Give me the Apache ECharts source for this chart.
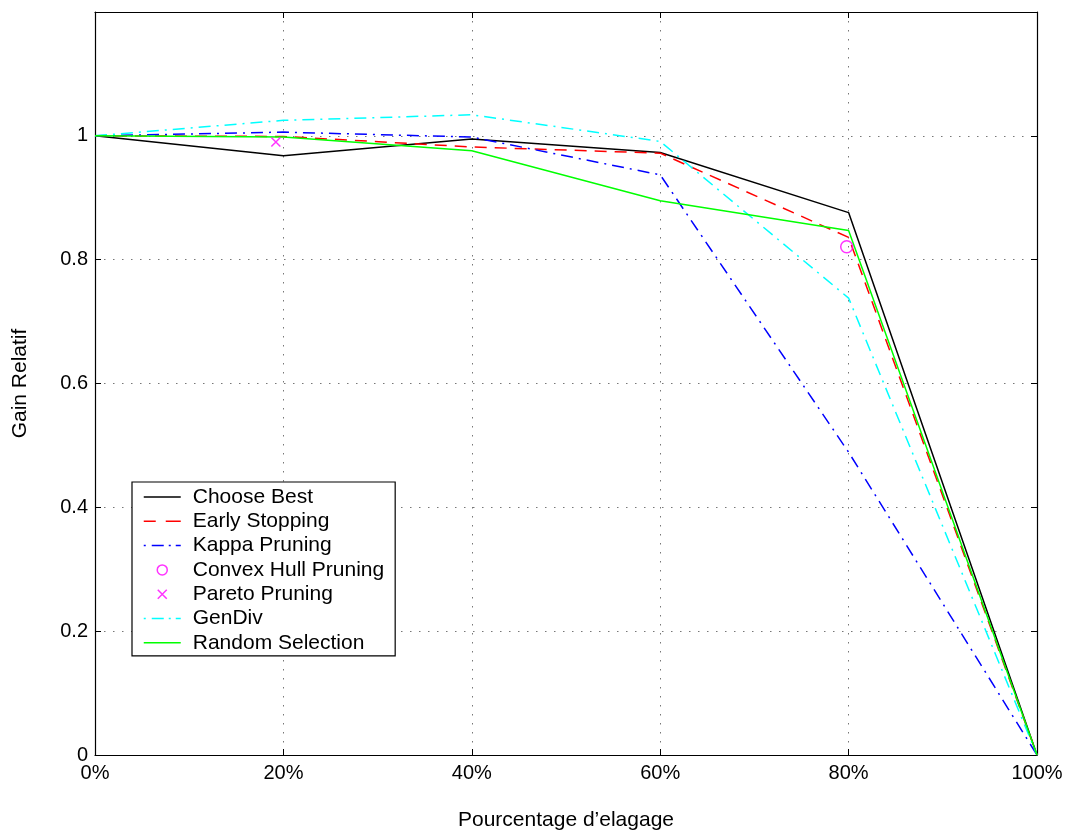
<!DOCTYPE html>
<html>
<head>
<meta charset="utf-8">
<script src="https://cdn.jsdelivr.net/npm/echarts@6/dist/echarts.min.js"></script>
<style>html,body{margin:0;padding:0;background:#fff}#c{width:1068px;height:834px}</style>
</head>
<body>
<div id="c"></div>
<script>
// ---- data ----
var xPercent = [0, 20, 40, 60, 80, 100];
var xTickLabels = ['0%', '20%', '40%', '60%', '80%', '100%'];
var yTickLabels = ['0', '0.2', '0.4', '0.6', '0.8', '1'];
var chooseBest = [1.0, 0.968, 0.995, 0.973, 0.876, 0.0];
var earlyStopping = [1.0, 0.999, 0.982, 0.972, 0.836, 0.0];
var kappaPruning = [1.0, 1.006, 0.998, 0.937, 0.489, 0.0];
var convexHullX = [79.8];
var convexHullY = [0.821];
var paretoX = [19.2];
var paretoY = [0.990];
var genDiv = [1.0, 1.025, 1.034, 0.991, 0.738, 0.0];
var randomSelection = [1.0, 0.998, 0.976, 0.895, 0.847, 0.0];

function pairs(xs, ys) { return xs.map(function (x, i) { return [x, ys[i]]; }); }

var FONT = '"Liberation Sans", Arial, Helvetica, sans-serif';
var chart = echarts.init(document.getElementById('c'), null, { renderer: 'canvas' });

function lineSeries(name, data, color, type) {
  return {
    name: name, type: 'line', data: pairs(xPercent, data), symbol: 'none',
    lineStyle: { color: color, width: 1.5, type: type },
    itemStyle: { color: color }, z: 3, animation: false
  };
}

// legend icon helpers (bounding box 37 x 14, line centred at y = 7)
var BOX = 'M0,0L0,0 M37,14L37,14 ';
function seg(a, b) { return 'M' + a + ',6.25L' + b + ',6.25L' + b + ',7.75L' + a + ',7.75Z '; }
var iconSolid = 'path://' + BOX + seg(0, 37);
var iconDashed = 'path://' + BOX + seg(0, 12) + seg(22, 37);
var iconDashDot = 'path://' + BOX + seg(0, 2) + seg(8, 20) + seg(25, 27) + seg(32, 37);
var iconCircle = 'path://' + BOX + 'M13.5,7A5,5 0 1,0 23.5,7A5,5 0 1,0 13.5,7Z';
var iconCross = 'path://' + BOX + 'M14,2.5L23,11.5M23,2.5L14,11.5';
var xMark = 'path://M0,0L10,10M10,0L0,10';

var option = {
  animation: false,
  backgroundColor: '#ffffff',
  textStyle: { fontFamily: FONT },
  grid: { left: 95, right: 31, top: 12, bottom: 79, containLabel: false, outerBoundsMode: 'none' },
  xAxis: [{
    type: 'value', min: 0, max: 100, interval: 20,
    name: 'Pourcentage d\u2019elagage', nameLocation: 'middle', nameGap: 55,
    nameTextStyle: { color: '#000', fontSize: 21, fontFamily: FONT },
    axisLine: { show: true, onZero: false, lineStyle: { color: '#000', width: 1.2 } },
    axisTick: { show: true, inside: true, length: 6, lineStyle: { color: '#000' } },
    axisLabel: { color: '#000', fontSize: 20, fontFamily: FONT, margin: 8,
      formatter: function (v) { var i = xPercent.indexOf(v); return i >= 0 ? xTickLabels[i] : ''; } },
    splitLine: { show: true, lineStyle: { color: '#777', width: 1, type: [1.5, 7.5] } }
  }, {
    type: 'value', min: 0, max: 100, interval: 20, position: 'top',
    axisLine: { show: true, onZero: false, lineStyle: { color: '#000', width: 1.2 } },
    axisTick: { show: true, inside: true, length: 6, lineStyle: { color: '#000' } },
    axisLabel: { show: false }, splitLine: { show: false }
  }],
  yAxis: [{
    type: 'value', min: 0, max: 1.2, interval: 0.2,
    name: 'Gain Relatif', nameLocation: 'middle', nameGap: 64, nameRotate: 90,
    nameTextStyle: { color: '#000', fontSize: 21, fontFamily: FONT },
    axisLine: { show: true, onZero: false, lineStyle: { color: '#000', width: 1.2 } },
    axisTick: { show: true, inside: true, length: 6, lineStyle: { color: '#000' } },
    axisLabel: { color: '#000', fontSize: 20, fontFamily: FONT, margin: 7,
      formatter: function (v) { var i = Math.round(v / 0.2); return (i < yTickLabels.length && Math.abs(v - i * 0.2) < 1e-6) ? yTickLabels[i] : ''; } },
    splitLine: { show: true, lineStyle: { color: '#777', width: 1, type: [1.5, 7.5] } }
  }, {
    type: 'value', min: 0, max: 1.2, interval: 0.2, position: 'right',
    axisLine: { show: true, onZero: false, lineStyle: { color: '#000', width: 1.2 } },
    axisTick: { show: true, inside: true, length: 6, lineStyle: { color: '#000' } },
    axisLabel: { show: false }, splitLine: { show: false }
  }],
  legend: {
    orient: 'vertical', left: 132, top: 482,
    backgroundColor: '#fff', borderColor: '#000', borderWidth: 1.2,
    padding: [3, 11, 1, 11], itemGap: 0.3, itemWidth: 37, itemHeight: 14,
    symbolKeepAspect: true,
    textStyle: { color: '#000', fontSize: 21, fontFamily: FONT, lineHeight: 24, padding: [0, 0, 0, 7] },
    selectedMode: false,
    data: [
      { name: 'Choose Best', icon: iconSolid, itemStyle: { color: '#000000', borderWidth: 0 } },
      { name: 'Early Stopping', icon: iconDashed, itemStyle: { color: '#ff0000', borderWidth: 0 } },
      { name: 'Kappa Pruning', icon: iconDashDot, itemStyle: { color: '#0000ff', borderWidth: 0 } },
      { name: 'Convex Hull Pruning', icon: iconCircle, itemStyle: { color: 'rgba(0,0,0,0)', borderColor: '#ff00ff', borderWidth: 1.5 } },
      { name: 'Pareto Pruning', icon: iconCross, itemStyle: { color: 'rgba(0,0,0,0)', borderColor: '#ff00ff', borderWidth: 1.5 } },
      { name: 'GenDiv', icon: iconDashDot, itemStyle: { color: '#00ffff', borderWidth: 0 } },
      { name: 'Random Selection', icon: iconSolid, itemStyle: { color: '#00ff00', borderWidth: 0 } }
    ]
  },
  series: [
    lineSeries('Choose Best', chooseBest, '#000000', 'solid'),
    lineSeries('Early Stopping', earlyStopping, '#ff0000', [12, 8]),
    lineSeries('Kappa Pruning', kappaPruning, '#0000ff', [12, 6, 2, 6]),
    {
      name: 'Convex Hull Pruning', type: 'scatter', data: pairs(convexHullX, convexHullY),
      symbol: 'circle', symbolSize: 12,
      itemStyle: { color: 'rgba(0,0,0,0)', borderColor: '#ff00ff', borderWidth: 1.5 }, z: 4
    },
    {
      name: 'Pareto Pruning', type: 'scatter', data: pairs(paretoX, paretoY),
      symbol: xMark, symbolSize: 9,
      itemStyle: { color: 'rgba(0,0,0,0)', borderColor: '#ff00ff', borderWidth: 1.5 }, z: 4
    },
    lineSeries('GenDiv', genDiv, '#00ffff', [12, 6, 2, 6]),
    lineSeries('Random Selection', randomSelection, '#00ff00', 'solid')
  ]
};
chart.setOption(option);
</script>
</body>
</html>
